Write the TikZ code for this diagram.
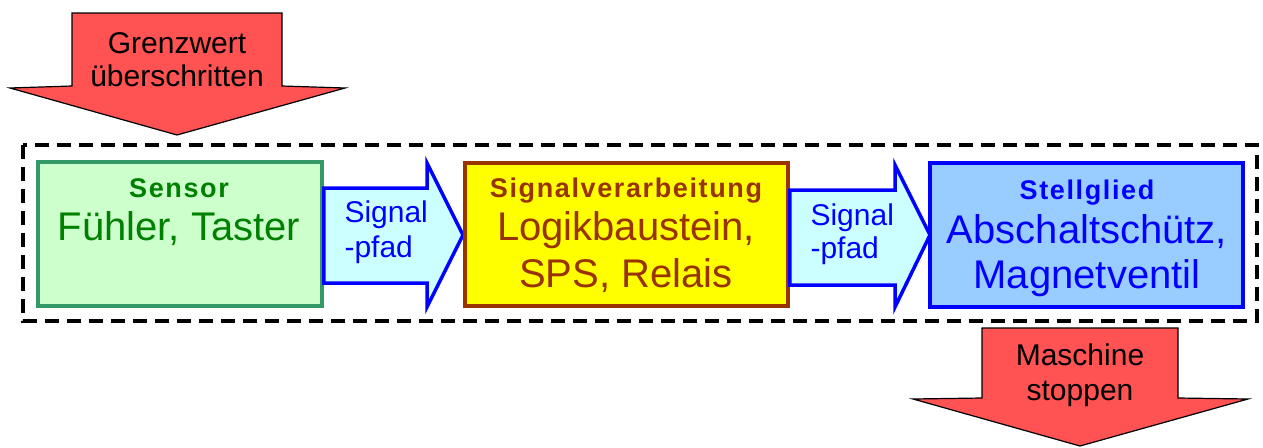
\documentclass[tikz,border=0pt]{standalone}
\usepackage{fontspec}
\setmainfont{Liberation Sans}
\definecolor{redfill}{RGB}{255,82,82}
\definecolor{gfill}{RGB}{204,255,204}
\definecolor{gline}{RGB}{51,153,102}
\definecolor{gtext}{RGB}{0,128,0}
\definecolor{yfill}{RGB}{255,255,0}
\definecolor{bline}{RGB}{153,51,0}
\definecolor{bfill}{RGB}{153,204,255}
\definecolor{cfill}{RGB}{204,255,255}
\definecolor{blu}{RGB}{0,0,255}
\begin{document}
\begin{tikzpicture}[x=1pt,y=-1pt,
  small/.style={font=\fontsize{30}{34}\selectfont},
  big/.style={font=\fontsize{40}{44}\selectfont},
  head/.style={font=\fontsize{27}{30}\selectfont\bfseries\addfontfeature{LetterSpace=6}},
  redarrow/.style={fill=redfill,draw=black,line width=1.2pt,line join=miter},
  sigarrow/.style={fill=cfill,draw=blu,line width=3.5pt,line join=miter},
  block/.style={draw,line width=3.5pt,inner sep=0pt}]
\useasboundingbox (0,0) rectangle (1263,447);
% dashed frame
\draw[line width=3.2pt,dash pattern=on 14pt off 8pt] (23,145) rectangle (1257,321);
% top red arrow
\draw[redarrow] (72,13) -- (282,13) -- (282,86) -- (345,88) -- (177,135) -- (10,88) -- (72,86) -- cycle;
\node[small,anchor=base] (g1) at (177,53) {Grenzwert};
\node[small,anchor=base] (g2) at (177,86) {überschritten};
% bottom red arrow
\draw[redarrow] (982,328) -- (1178,328) -- (1178,398) -- (1248,399) -- (1080,446) -- (913,399) -- (982,398) -- cycle;
\node[small,anchor=base] (m1) at (1080,365) {Maschine};
\node[small,anchor=base] (m2) at (1080,400) {stoppen};
% sensor box
\node[block,draw=gline,fill=gfill,minimum width=284pt,minimum height=144pt] (sensor) at (180,234) {};
\node[head,text=gtext,anchor=base] (s1) at (179,197) {Sensor};
\node[big,text=gtext,anchor=base] (s2) at (179,240) {Fühler, Taster};
% signal arrow 1
\draw[sigarrow] (sensor.east |- 0,188) -- (427,188) -- (427,163) -- (463,235) -- (427,307) -- (427,283) -- (sensor.east |- 0,283) -- cycle;
\node[small,text=blu,anchor=base west] (a1) at (341,222) {Signal};
\node[small,text=blu,anchor=base west] (a2) at (341,257) {-pfad};
% yellow box
\node[block,draw=bline,fill=yfill,minimum width=323pt,minimum height=143pt] (logic) at (626.5,234.5) {};
\node[head,text=bline,anchor=base] (l1) at (626,197) {Signalverarbeitung};
\node[big,text=bline,anchor=base] (l2) at (626,240) {Logikbaustein,};
\node[big,text=bline,anchor=base] (l3) at (626,287) {SPS, Relais};
% signal arrow 2
\draw[sigarrow] (logic.east |- 0,190) -- (895,190) -- (895,165) -- (930,235) -- (895,307) -- (895,285) -- (logic.east |- 0,285) -- cycle;
\node[small,text=blu,anchor=base west] (b1) at (807,225) {Signal};
\node[small,text=blu,anchor=base west] (b2) at (807,258) {-pfad};
% blue box
\node[block,draw=blu,fill=bfill,minimum width=313pt,minimum height=144pt] (act) at (1086.5,235) {};
\node[head,text=blu,anchor=base] (t1) at (1087,199) {Stellglied};
\node[big,text=blu,anchor=base] (t2) at (1087,243) {Abschaltschütz,};
\node[big,text=blu,anchor=base] (t3) at (1087,288) {Magnetventil};
\end{tikzpicture}
\end{document}
